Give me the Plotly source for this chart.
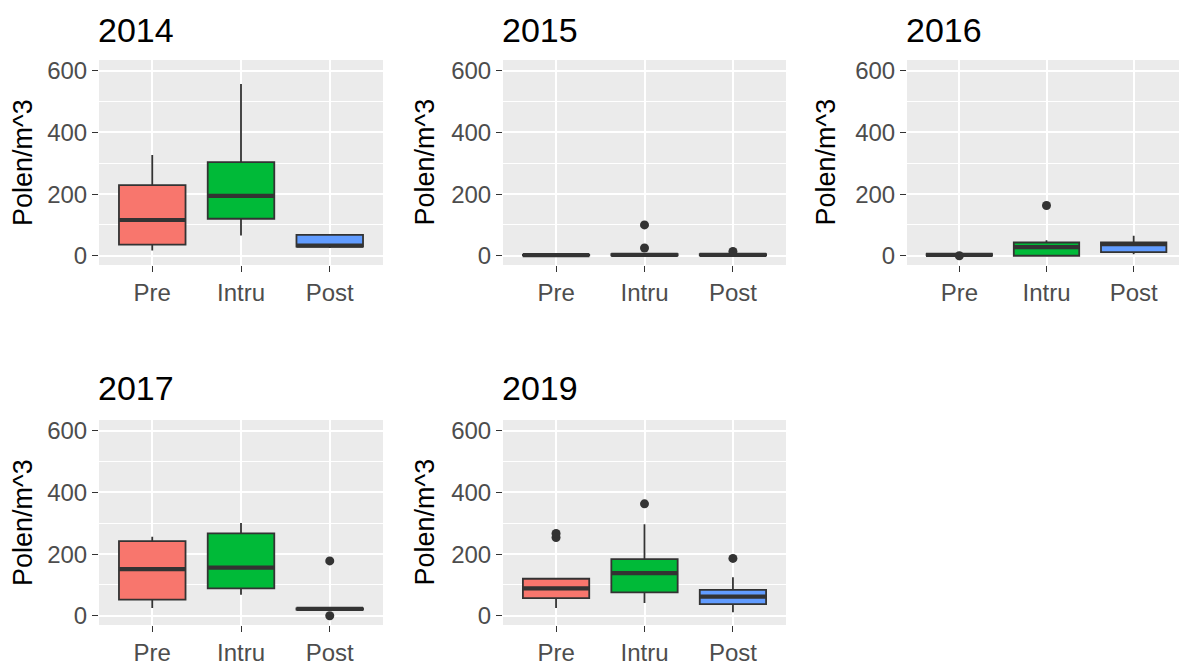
import plotly.graph_objects as go

# ---------------- data ----------------
categories = ["Pre", "Intru", "Post"]
years = ["2014", "2015", "2016", "2017", "2019"]
fill_colors = ["#F8766D", "#00BA38", "#619CFF"]

lower_2014 = [17, 66, 25]
q1_2014 = [36, 120, 30]
median_2014 = [116, 194, 33]
q3_2014 = [229, 304, 68]
upper_2014 = [327, 557, 68]
outliers_2014 = [[], [], []]

lower_2015 = [0, 0, 0]
q1_2015 = [1, 1, 1]
median_2015 = [2, 3, 3]
q3_2015 = [3, 5, 5]
upper_2015 = [5, 8, 7]
outliers_2015 = [[], [25, 100], [14]]

lower_2016 = [1, 0, 5]
q1_2016 = [2, 0, 12]
median_2016 = [3, 28, 38]
q3_2016 = [5, 43, 43]
upper_2016 = [6, 50, 65]
outliers_2016 = [[0], [163], []]

lower_2017 = [25, 68, 18]
q1_2017 = [52, 89, 20]
median_2017 = [151, 156, 22]
q3_2017 = [242, 267, 24]
upper_2017 = [256, 301, 26]
outliers_2017 = [[], [], [0, 178]]

lower_2019 = [25, 41, 11]
q1_2019 = [57, 76, 38]
median_2019 = [89, 138, 62]
q3_2019 = [120, 184, 84]
upper_2019 = [120, 297, 125]
outliers_2019 = [[254, 267], [363], [186]]

y_ticks = [0, 200, 400, 600]
y_minor = [100, 300, 500]
y_label = "Polen/m^3"

stats = {
    "2014": (lower_2014, q1_2014, median_2014, q3_2014, upper_2014, outliers_2014),
    "2015": (lower_2015, q1_2015, median_2015, q3_2015, upper_2015, outliers_2015),
    "2016": (lower_2016, q1_2016, median_2016, q3_2016, upper_2016, outliers_2016),
    "2017": (lower_2017, q1_2017, median_2017, q3_2017, upper_2017, outliers_2017),
    "2019": (lower_2019, q1_2019, median_2019, q3_2019, upper_2019, outliers_2019),
}

# ---------------- layout geometry ----------------
# target positions are page pixels of the 1187x666 window; the html body
# has an 8px default margin, so the figure is placed 8px in from top/left.
PAGE_W, PAGE_H = 1187, 666
OFF = 8
W, H = PAGE_W - OFF, PAGE_H - OFF
col_x = [(99, 383), (503, 786), (907, 1186)]
row_y = [(60, 265), (420, 625)]
panel_pos = [(0, 0), (0, 1), (0, 2), (1, 0), (1, 1)]
title_y = [30, 388]
ylab_x = [22.5, 424, 825]


def fx(p):
    return (p - OFF) / W


def fy(p):
    return 1 - (p - OFF) / H


FONT = "Liberation Sans, Arial, sans-serif"
LINE = "#333333"
BOX_W = 0.75
px_per_cat = (col_x[0][1] - col_x[0][0]) / 3.2
median_len = BOX_W * px_per_cat / 1.4   # plotly scales line-ew by 1.4

fig = go.Figure()
layout = dict(
    width=W, height=H,
    margin=dict(l=0, r=0, t=0, b=0, autoexpand=False),
    paper_bgcolor="white",
    plot_bgcolor="#EBEBEB",
    showlegend=False,
    font=dict(family=FONT),
    annotations=[],
)

for i, year in enumerate(years):
    r, c = panel_pos[i]
    k = "" if i == 0 else str(i + 1)
    xa, ya = "x" + k, "y" + k
    lower, q1, med, q3, upper, outs = stats[year]
    for j, cat in enumerate(categories):
        fig.add_trace(go.Box(
            x=[cat], q1=[q1[j]], median=[med[j]], q3=[q3[j]],
            lowerfence=[lower[j]], upperfence=[upper[j]],
            width=BOX_W, whiskerwidth=0,
            fillcolor=fill_colors[j],
            line=dict(color=LINE, width=1.8),
            boxpoints=False, hoverinfo="skip",
            xaxis=xa, yaxis=ya,
        ))
        # thicker median bar (ggplot "fatten")
        fig.add_trace(go.Scatter(
            x=[cat], y=[med[j]], mode="markers",
            marker=dict(symbol="line-ew", size=median_len,
                        line=dict(color=LINE, width=4.2)),
            hoverinfo="skip", xaxis=xa, yaxis=ya,
        ))
        if outs[j]:
            fig.add_trace(go.Scatter(
                x=[cat] * len(outs[j]), y=outs[j], mode="markers",
                marker=dict(color=LINE, size=9),
                hoverinfo="skip", xaxis=xa, yaxis=ya,
            ))

    x0, x1 = col_x[c]
    y0, y1 = row_y[r]
    layout["xaxis" + k] = dict(
        domain=[fx(x0), min(fx(x1), 1)], anchor=ya, automargin=False,
        type="category", categoryorder="array", categoryarray=categories,
        range=[-0.6, 2.6],
        showgrid=True, gridcolor="white", gridwidth=1.6,
        zeroline=False, showline=False,
        ticks="outside", ticklen=6, tickwidth=1.3, tickcolor=LINE,
        tickfont=dict(size=24, color="#4D4D4D", family=FONT),
        fixedrange=True,
    )
    layout["yaxis" + k] = dict(
        domain=[fy(y1), fy(y0)], anchor=xa, automargin=False,
        range=[-30, 635],
        tickmode="array", tickvals=y_ticks,
        showgrid=True, gridcolor="white", gridwidth=1.6,
        minor=dict(tickmode="array", tickvals=y_minor, showgrid=True,
                   gridcolor="white", gridwidth=0.8, ticks=""),
        zeroline=False, showline=False,
        ticks="outside", ticklen=6, tickwidth=1.3, tickcolor=LINE,
        tickfont=dict(size=24, color="#4D4D4D", family=FONT),
        fixedrange=True,
    )
    layout["annotations"].append(dict(
        text=year, xref="paper", yref="paper",
        x=fx(x0), y=fy(title_y[r]), xanchor="left", yanchor="middle",
        xshift=-3,
        showarrow=False, font=dict(size=34, color="black", family=FONT),
    ))
    layout["annotations"].append(dict(
        text=y_label, xref="paper", yref="paper", textangle=-90,
        x=fx(ylab_x[c]), y=fy((y0 + y1) / 2), xanchor="center", yanchor="middle",
        showarrow=False, font=dict(size=27, color="black", family=FONT),
    ))

fig.update_layout(**layout)
fig.write_html("out.html")
